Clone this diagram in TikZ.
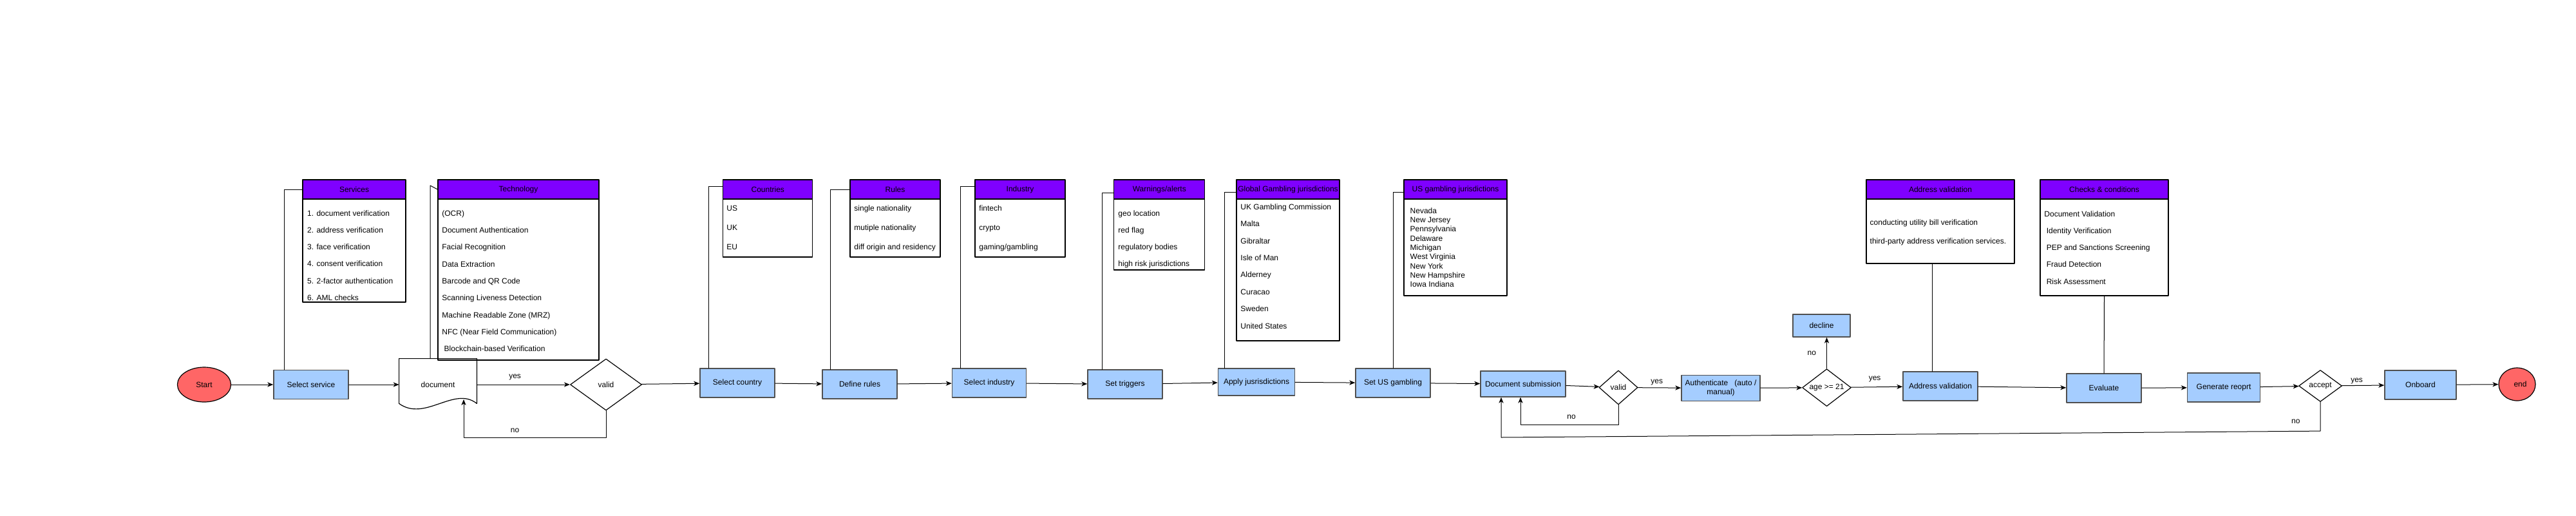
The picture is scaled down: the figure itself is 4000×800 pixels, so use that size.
\documentclass[tikz,border=0pt]{standalone}
\usepackage{fontspec}
\setmainfont{Liberation Sans}
\usetikzlibrary{arrows.meta,shapes.geometric}

\definecolor{hdrfill}{HTML}{7F00FF}
\definecolor{procfill}{HTML}{A5CDFF}
\definecolor{procedge}{HTML}{505050}
\definecolor{termfill}{HTML}{FF6666}

\begin{document}
\begin{tikzpicture}[x=0.5pt,y=-0.5pt,>={Stealth[length=4.5pt,width=3.6pt,inset=1.3pt]},line cap=round,line join=round,
  txt/.style={font=\fontsize{6}{7.2}\selectfont},
  proc/.style={txt,draw=procedge,fill=procfill,line width=0.75pt,inner sep=0pt,align=center,minimum width=58pt,minimum height=22.5pt},
  term/.style={txt,ellipse,draw=black,fill=termfill,line width=0.6pt,inner sep=0pt},
  cond/.style={txt,diamond,draw=black,fill=white,line width=0.6pt,inner sep=0pt},
  hdr/.style={txt,draw=black,fill=hdrfill,line width=0.6pt,inner sep=0pt,minimum height=15pt},
  body/.style={draw=black,fill=white,line width=0.6pt,inner sep=0pt},
  items/.style={anchor=north west,inner sep=0pt,align=left},
  link/.style={->,line width=0.5pt},
  tie/.style={line width=0.5pt},
  lbl/.style={txt,inner sep=1pt}]
\useasboundingbox (0,0) rectangle (4000,800);

% panels
\node[hdr,minimum width=80pt] (servH) at (550,294) {Services};
\node[body,minimum width=80pt,minimum height=80pt] (servB) at (550,389) {};
\node[items,font=\fontsize{6}{13.1}\selectfont] (servL) at (476.7,326.2) {1. document verification\\2. address verification\\3. face verification\\4. consent verification\\5. 2-factor authentication\\6. AML checks};

\node[hdr,minimum width=125pt] (techH) at (805,294) {Technology};
\node[body,minimum width=125pt,minimum height=125pt] (techB) at (805,434) {};
\node[items,font=\fontsize{6}{13.15}\selectfont] (techL) at (686,326.2) {(OCR)\\Document Authentication\\Facial Recognition\\Data Extraction\\Barcode and QR Code\\Scanning Liveness Detection\\Machine Readable Zone (MRZ)\\NFC (Near Field Communication)\\\ Blockchain-based Verification};

\node[hdr,minimum width=69.5pt] (ctyH) at (1192.3,294) {Countries};
\node[body,minimum width=69.5pt,minimum height=45pt] (ctyB) at (1192.3,354) {};
\node[items,font=\fontsize{6}{15}\selectfont] (ctyL) at (1128,318.5) {US\\UK\\EU};

\node[hdr,minimum width=70pt] (rulH) at (1390,294) {Rules};
\node[body,minimum width=70pt,minimum height=45pt] (rulB) at (1390,354) {};
\node[items,font=\fontsize{6}{15}\selectfont] (rulL) at (1326,318.5) {single nationality\\mutiple nationality\\diff origin and residency};

\node[hdr,minimum width=70pt] (indH) at (1584,294) {Industry};
\node[body,minimum width=70pt,minimum height=45pt] (indB) at (1584,354) {};
\node[items,font=\fontsize{6}{15}\selectfont] (indL) at (1520,318.5) {fintech\\crypto\\gaming/gambling};

\node[hdr,minimum width=70.5pt] (trgH) at (1800.3,294) {Warnings/alerts};
\node[body,minimum width=70.5pt,minimum height=55pt] (trgB) at (1800.3,364) {};
\node[items,font=\fontsize{6}{13.1}\selectfont] (trgL) at (1736,326.2) {geo location\\red flag\\regulatory bodies\\high risk jurisdictions};

\node[hdr,minimum width=80pt] (appH) at (2000,294) {Global Gambling jurisdictions};
\node[body,minimum width=80pt,minimum height=110pt] (appB) at (2000,419) {};
\node[items,font=\fontsize{6}{13.2}\selectfont] (appL) at (1926,316.2) {UK Gambling Commission\\Malta\\Gibraltar\\Isle of Man\\Alderney\\Curacao\\Sweden\\United States};

\node[hdr,minimum width=80pt] (usgH) at (2260,294) {US gambling jurisdictions};
\node[body,minimum width=80pt,minimum height=75pt] (usgB) at (2260,384) {};
\node[items,font=\fontsize{6}{7.15}\selectfont] (usgL) at (2189.3,322.2) {Nevada\\New Jersey\\Pennsylvania\\Delaware\\Michigan\\West Virginia\\New York\\New Hampshire\\Iowa Indiana};

\node[hdr,minimum width=115pt] (adrH) at (3013,294) {Address validation};
\node[body,minimum width=115pt,minimum height=50pt] (adrB) at (3013,359) {};
\node[items,font=\fontsize{6}{14.35}\selectfont] (adrL) at (2903.3,340.5) {conducting utility bill verification\\third-party address verification services.};

\node[hdr,minimum width=99.5pt] (chkH) at (3267.5,294) {Checks \& conditions};
\node[body,minimum width=99.5pt,minimum height=75pt] (chkB) at (3267.5,384) {};
\node[items,font=\fontsize{6}{13.1}\selectfont] (chkL) at (3174,327.2) {Document Validation\\\ Identity Verification\\\ PEP and Sanctions Screening\\\ Fraud Detection\\\ Risk Assessment};

% main flow
\node[term,minimum width=41.5pt,minimum height=27pt] (start) at (317,597) {Start};
\node[proc] (sel) at (483,597) {Select service};
\node[txt,minimum width=60pt,minimum height=40pt,inner sep=0pt] (doc) at (680,597) {document};
\draw[line width=0.6pt] ([yshift=5.5pt]doc.south west) -- (doc.north west) -- (doc.north east) -- ([yshift=5.5pt]doc.south east) .. controls +(-17.5pt,14pt) and +(20pt,-14.5pt) .. ([yshift=5.5pt]doc.south west);
\node[cond,minimum width=55.5pt,minimum height=40pt] (val1) at (941,597) {valid};
\node[proc] (cty) at (1145,594.5) {Select country};
\node[proc] (rul) at (1335,596.5) {Define rules};
\node[proc,minimum width=57.5pt] (ind) at (1536,594.5) {Select industry};
\node[proc] (trg) at (1747,596.5) {Set triggers};
\node[proc,minimum width=59.5pt,minimum height=21pt] (app) at (1951,593) {Apply jusrisdictions};
\node[proc] (usg) at (2163,594.5) {Set US gambling};
\node[proc,minimum width=66pt,minimum height=20pt] (sub) at (2365,596) {Document submission};
\node[cond,minimum width=30pt,minimum height=26.5pt] (val2) at (2513,601.5) {valid};
\node[proc,minimum width=61pt,minimum height=20pt] (auth) at (2672,602.5) {Authenticate\ \ \ (auto /\\manual)};
\node[cond,shape aspect=2,minimum width=37.5pt,minimum height=29pt] (age) at (2836.5,601.7) {age >= 21};
\node[proc,minimum width=44.5pt,minimum height=17.5pt] (dec) at (2828.5,505.5) {decline};
\node[proc] (adr) at (3013,599.5) {Address validation};
\node[proc] (evl) at (3267,602.5) {Evaluate};
\node[proc,minimum width=56.5pt] (rep) at (3453,601.5) {Generate reoprt};
\node[cond,minimum width=33.5pt,minimum height=24.5pt] (acc) at (3603,599) {accept};
\node[proc,minimum width=55.5pt] (onb) at (3758.5,597.5) {Onboard};
\node[term,minimum width=28.5pt,minimum height=25.5pt] (fin) at (3908.5,596.5) {\hspace{5pt}end};

\coordinate (docb) at (720,620);
\coordinate (techk) at (668,288);
\coordinate (back) at (2331,679);

% panel ties
\draw[tie] ([xshift=8.5pt]sel.north west) |- (servH.west);
\draw[tie] (doc.north -| techk) -- (techk) -- (techH.west);
\draw[tie] ([xshift=7pt]cty.north west) |- ([yshift=2.5pt]ctyH.west);
\draw[tie] ([xshift=6.5pt]rul.north west) |- (rulH.west);
\draw[tie] ([xshift=6.75pt]ind.north west) |- ([yshift=2.5pt]indH.west);
\draw[tie] ([xshift=11.5pt]trg.north west) |- ([yshift=-2.5pt]trgH.west);
\draw[tie] ([xshift=5.25pt]app.north west) |- ([yshift=-2pt]appH.west);
\draw[tie] (usg.north) |- ([yshift=-2pt]usgH.west);
\draw[tie] ([xshift=-6.5pt]adrB.south) -- ([xshift=-6.5pt]adr.north);
\draw[tie] (chkB.south) -- (evl.north);

% connectors
\draw[link] (start) -- (sel);
\draw[link] (sel) -- (doc);
\draw[link] (doc) -- node[lbl,above=2.2pt,pos=0.41]{yes} (val1);
\draw[link] (val1.south) -- ++(0,42) -| node[lbl,above=2.5pt,pos=0.32]{no} (docb);
\draw[link] (val1) -- (cty);
\draw[link] (cty) -- (rul);
\draw[link] (rul) -- (ind);
\draw[link] (ind) -- (trg);
\draw[link] (trg) -- (app);
\draw[link] (app) -- (usg);
\draw[link] (usg) -- (sub);
\draw[link] (sub) -- (val2);
\draw[link] (val2) -- node[lbl,above=0.9pt,pos=0.44]{yes} (auth);
\draw[link] (val2.south) -- ++(0,31) -| node[lbl,above=3pt,pos=0.24]{no} ([xshift=-2pt]sub.south);
\draw[link] (auth) -- (age);
\draw[link] (age.north) -- node[lbl,left=7pt]{no} (age.north |- dec.south);
\draw[link] (age) -- node[lbl,above=2.5pt,pos=0.46]{yes} (adr);
\draw[link] (adr) -- (evl);
\draw[link] (evl) -- (rep);
\draw[link] (rep) -- (acc);
\draw[link] (acc) -- node[lbl,above=0pt,pos=0.35]{yes} (onb);
\draw[link] (acc.south) -- ++(0,45) -- node[lbl,above=4.5pt,pos=0.03]{no} (back) -- ([xshift=-17pt]sub.south);
\draw[link] (onb) -- (fin);
\end{tikzpicture}
\end{document}
